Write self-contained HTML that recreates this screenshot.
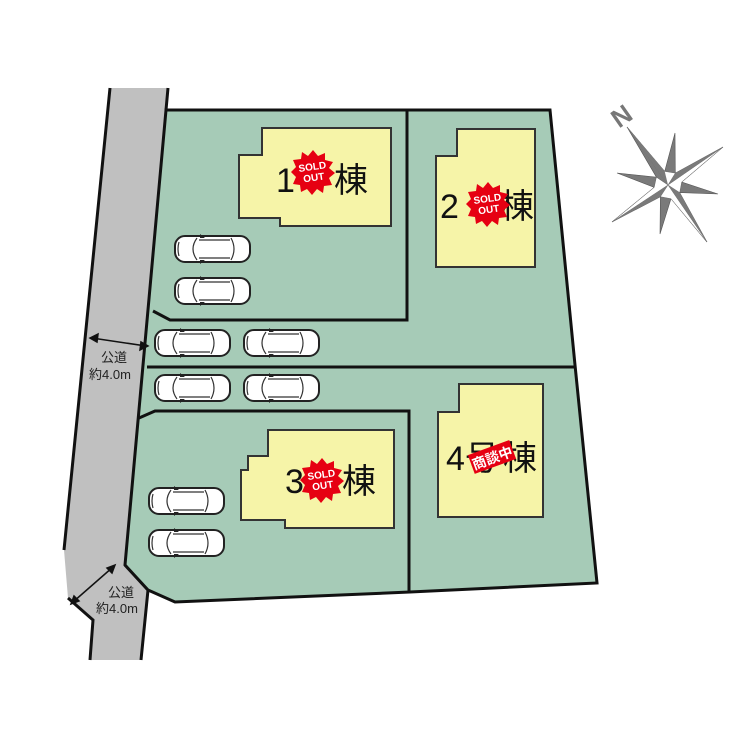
<!DOCTYPE html>
<html><head><meta charset="utf-8"><style>
body{margin:0;background:#fff}
svg{display:block}
text{font-family:"Liberation Sans","Noto Sans CJK JP",sans-serif}
</style></head><body>
<svg width="750" height="750" viewBox="0 0 750 750" xmlns="http://www.w3.org/2000/svg">
<defs>
<g id="car">
<rect x="0" y="0" width="75" height="26" rx="10" fill="#fff" stroke="#222" stroke-width="2"/>
<path d="M22 2 Q14 13 22 24 M56 2 Q62 13 56 24 M24 4 H55 M24 22 H55 M4 6 Q2 13 4 20" fill="none" stroke="#333" stroke-width="1.2"/>
<path d="M25 -2 L30 2 L25 2 Z M25 28 L30 24 L25 24 Z" fill="#222"/>
</g>
<g id="star">
<polygon fill="#e60012" points="0,-22 5,-16 12,-19 12,-12 20,-10 16,-4 22,1 16,6 19,13 11,14 10,21 4,17 -1,23 -6,17 -12,20 -13,13 -20,12 -17,5 -22,0 -17,-5 -20,-12 -12,-13 -11,-20 -5,-16"/>
<text x="0" y="-2" font-size="10" font-weight="bold" fill="#fff" text-anchor="middle" transform="rotate(-8)">SOLD</text>
<text x="0" y="9" font-size="10" font-weight="bold" fill="#fff" text-anchor="middle" transform="rotate(-8)">OUT</text>
</g>
</defs>
<!-- road -->
<polygon points="110,88 168,88 166,110 125,565 148,590 141,660 90,660 93,620 68,598 64,550" fill="#c0c0c0"/>
<path d="M110,88 L64,550 M68,598 L93,620 L90,660 M168,88 L166,110 M141,660 L148,590 L125,565" fill="none" stroke="#111" stroke-width="3"/>
<!-- lot -->
<polygon points="166,110 550,110 575,365 597,583 410,592 175,602 148,590 125,565" fill="#a6cbb7" stroke="#111" stroke-width="3"/>
<path d="M407,110 V320 H170 L153,311" fill="none" stroke="#111" stroke-width="3"/>
<path d="M147,367 H575" fill="none" stroke="#111" stroke-width="3"/>
<path d="M409,592 V411 H155 L139,418" fill="none" stroke="#111" stroke-width="3"/>
<!-- houses -->
<g fill="#f6f4a8" stroke="#333" stroke-width="2">
<polygon points="262,128 391,128 391,226 280,226 280,218 239,218 239,155 262,155"/>
<polygon points="457,129 535,129 535,267 436,267 436,156 457,156"/>
<polygon points="268,430 394,430 394,528 285,528 285,520 241,520 241,470 248,470 248,456 268,456"/>
<polygon points="459,384 543,384 543,517 438,517 438,412 459,412"/>
</g>
<g font-size="34" fill="#111">
<text x="276" y="192">1</text><text x="334" y="192">棟</text>
<text x="440" y="218">2</text><text x="500" y="218">棟</text>
<text x="285" y="493">3</text><text x="342" y="493">棟</text>
<text x="446" y="470">4</text><text x="465" y="470">号</text><text x="503" y="470">棟</text>
</g>
<use href="#star" x="313" y="172"/>
<use href="#star" x="488" y="204"/>
<use href="#star" x="322" y="480"/>
<g transform="translate(492,457) rotate(-20)">
<rect x="-22" y="-10" width="44" height="20" fill="#e60012"/>
<text x="0" y="6" font-size="14" font-weight="bold" fill="#fff" text-anchor="middle">商談中</text>
</g>
<!-- cars -->
<use href="#car" x="175" y="236"/>
<use href="#car" x="175" y="278"/>
<use href="#car" x="155" y="330"/>
<use href="#car" x="244" y="330"/>
<use href="#car" x="155" y="375"/>
<use href="#car" x="244" y="375"/>
<use href="#car" x="149" y="488"/>
<use href="#car" x="149" y="530"/>
<!-- road labels -->
<g stroke="#111" stroke-width="1.5" fill="#111">
<line x1="92" y1="338" x2="146" y2="346"/>
<polygon points="90,338 98,334 97,342"/><polygon points="148,346 140,350 141,342"/>
<line x1="73" y1="602" x2="113" y2="567"/>
<polygon points="71,604 74,596 79,601"/><polygon points="115,565 112,573 107,568"/>
</g>
<g font-size="13" fill="#222" text-anchor="middle">
<text x="114" y="362">公道</text><text x="110" y="379">約4.0m</text>
<text x="121" y="597">公道</text><text x="117" y="613">約4.0m</text>
</g>
<!-- compass -->
<polygon fill="#7a7a7a" stroke="#555" stroke-width="0.6" points="627,127 664.7,171.4 675,133 675.3,173.1 723,147 681.7,182 718,194 679.7,192.6 707,242 671,198.7 660,234 660.4,196.7 612,222 654.2,187.4 617,173 656.4,177.2"/>
<g fill="#fff" stroke="#555" stroke-width="0.4">
<polygon points="627,127 668,185 675.3,173.1 664.7,171.4"/>
<polygon points="723,147 668,185 679.7,192.6 681.7,182"/>
<polygon points="707,242 668,185 660.4,196.7 671,198.7"/>
<polygon points="612,222 668,185 656.4,177.2 654.2,187.4"/>
</g>
<polygon fill="#7a7a7a" points="627,127 668,185 664.7,171.4"/>
<polygon fill="#7a7a7a" points="723,147 668,185 675.3,173.1"/>
<polygon fill="#7a7a7a" points="707,242 668,185 679.7,192.6"/>
<polygon fill="#7a7a7a" points="612,222 668,185 660.4,196.7"/>
<text x="610" y="124" font-size="26" font-weight="bold" fill="#777" transform="rotate(-35 622 112)">N</text>
</svg>
</body></html>
